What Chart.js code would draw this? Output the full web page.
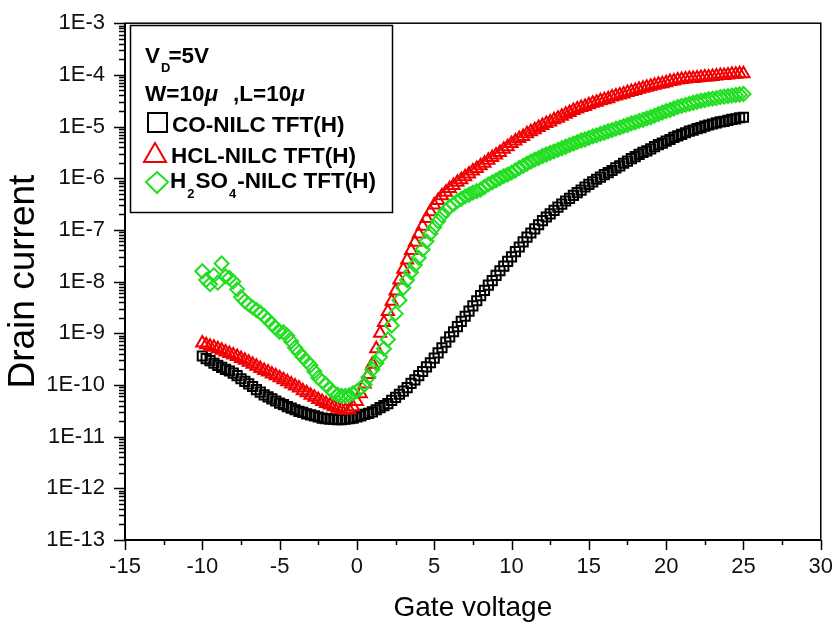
<!DOCTYPE html>
<html>
<head>
<meta charset="utf-8">
<script src="https://cdn.jsdelivr.net/npm/chart.js@4/dist/chart.umd.min.js"></script>
<style>
  html, body { margin: 0; padding: 0; background: #fff; }
  #wrap { width: 837px; height: 641px; }
</style>
</head>
<body>
<div id="wrap"><canvas id="c" width="837" height="641"></canvas></div>
<script>
// Gate sweep (V)
const gateVoltage = [
  -10, -9.75, -9.5, -9.25, -9, -8.75, -8.5, -8.25, -8, -7.75, -7.5, -7.25,
  -7, -6.75, -6.5, -6.25, -6, -5.75, -5.5, -5.25, -5, -4.75, -4.5, -4.25,
  -4, -3.75, -3.5, -3.25, -3, -2.75, -2.5, -2.25, -2, -1.75, -1.5, -1.25,
  -1, -0.75, -0.5, -0.25, 0, 0.25, 0.5, 0.75, 1, 1.25, 1.5, 1.75,
  2, 2.25, 2.5, 2.75, 3, 3.25, 3.5, 3.75, 4, 4.25, 4.5, 4.75,
  5, 5.25, 5.5, 5.75, 6, 6.25, 6.5, 6.75, 7, 7.25, 7.5, 7.75,
  8, 8.25, 8.5, 8.75, 9, 9.25, 9.5, 9.75, 10, 10.25, 10.5, 10.75,
  11, 11.25, 11.5, 11.75, 12, 12.25, 12.5, 12.75, 13, 13.25, 13.5, 13.75,
  14, 14.25, 14.5, 14.75, 15, 15.25, 15.5, 15.75, 16, 16.25, 16.5, 16.75,
  17, 17.25, 17.5, 17.75, 18, 18.25, 18.5, 18.75, 19, 19.25, 19.5, 19.75,
  20, 20.25, 20.5, 20.75, 21, 21.25, 21.5, 21.75, 22, 22.25, 22.5, 22.75,
  23, 23.25, 23.5, 23.75, 24, 24.25, 24.5, 24.75, 25
];

// log10 of drain current (A), CO-NILC TFT(H)
const coLogId = [
  -9.44, -9.49, -9.53, -9.58, -9.62, -9.66, -9.70, -9.73, -9.77, -9.82, -9.88, -9.93,
  -9.98, -10.03, -10.09, -10.14, -10.19, -10.23, -10.27, -10.31, -10.35, -10.38, -10.42, -10.45,
  -10.48, -10.51, -10.53, -10.56, -10.58, -10.60, -10.62, -10.64, -10.65, -10.66, -10.66, -10.67,
  -10.67, -10.66, -10.65, -10.64, -10.62, -10.60, -10.57, -10.55, -10.52, -10.48, -10.44, -10.40,
  -10.36, -10.30, -10.24, -10.18, -10.12, -10.05, -9.97, -9.90, -9.82, -9.74, -9.65, -9.57,
  -9.48, -9.38, -9.28, -9.17, -9.07, -8.97, -8.87, -8.77, -8.67, -8.57, -8.47, -8.37,
  -8.27, -8.17, -8.07, -7.98, -7.88, -7.79, -7.70, -7.61, -7.52, -7.42, -7.33, -7.23,
  -7.14, -7.06, -6.98, -6.90, -6.82, -6.75, -6.69, -6.62, -6.56, -6.50, -6.44, -6.39,
  -6.33, -6.28, -6.23, -6.17, -6.12, -6.07, -6.02, -5.98, -5.93, -5.89, -5.85, -5.80,
  -5.76, -5.71, -5.67, -5.62, -5.58, -5.54, -5.50, -5.47, -5.43, -5.39, -5.35, -5.32,
  -5.28, -5.25, -5.21, -5.18, -5.15, -5.12, -5.09, -5.07, -5.04, -5.02, -4.99, -4.97,
  -4.95, -4.93, -4.91, -4.90, -4.88, -4.86, -4.85, -4.83, -4.82
];

// log10 of drain current (A), HCL-NILC TFT(H)
const hclLogId = [
  -9.19, -9.22, -9.25, -9.27, -9.30, -9.33, -9.36, -9.39, -9.42, -9.45, -9.49, -9.52,
  -9.56, -9.60, -9.64, -9.68, -9.72, -9.75, -9.79, -9.82, -9.86, -9.90, -9.94, -9.98,
  -10.02, -10.06, -10.11, -10.15, -10.20, -10.24, -10.28, -10.32, -10.36, -10.39, -10.42, -10.45,
  -10.48, -10.49, -10.48, -10.42, -10.32, -10.17, -9.98, -9.80, -9.60, -9.30, -9.00, -8.79,
  -8.58, -8.38, -8.18, -7.97, -7.76, -7.58, -7.40, -7.24, -7.08, -6.93, -6.78, -6.65,
  -6.52, -6.43, -6.34, -6.27, -6.20, -6.14, -6.08, -6.03, -5.97, -5.92, -5.86, -5.81,
  -5.76, -5.71, -5.65, -5.60, -5.55, -5.50, -5.44, -5.39, -5.33, -5.28, -5.23, -5.19,
  -5.14, -5.10, -5.06, -5.02, -4.98, -4.94, -4.91, -4.87, -4.84, -4.80, -4.76, -4.73,
  -4.69, -4.66, -4.63, -4.61, -4.58, -4.55, -4.53, -4.50, -4.48, -4.46, -4.43, -4.41,
  -4.39, -4.37, -4.34, -4.32, -4.30, -4.28, -4.26, -4.24, -4.22, -4.20, -4.18, -4.17,
  -4.15, -4.13, -4.12, -4.10, -4.09, -4.08, -4.07, -4.07, -4.06, -4.05, -4.04, -4.04,
  -4.03, -4.02, -4.01, -4.01, -4.00, -3.99, -3.99, -3.98, -3.98
];

// log10 of drain current (A), H2SO4-NILC TFT(H)
const h2so4LogId = [
  -7.80, -7.97, -8.05, -7.88, -8.02, -7.65, -7.90, -7.93, -8.00, -8.15, -8.30, -8.38,
  -8.44, -8.50, -8.55, -8.60, -8.67, -8.74, -8.82, -8.90, -8.97, -8.98, -9.05, -9.16,
  -9.28, -9.37, -9.46, -9.54, -9.62, -9.74, -9.86, -9.93, -9.99, -10.08, -10.15, -10.19,
  -10.21, -10.21, -10.20, -10.16, -10.12, -10.06, -9.99, -9.85, -9.70, -9.58, -9.46, -9.30,
  -9.12, -8.85, -8.62, -8.36, -8.12, -7.97, -7.82, -7.68, -7.54, -7.38, -7.22, -7.07,
  -6.95, -6.83, -6.72, -6.63, -6.55, -6.50, -6.44, -6.40, -6.35, -6.32, -6.28, -6.25,
  -6.22, -6.17, -6.12, -6.08, -6.04, -6.00, -5.96, -5.93, -5.89, -5.85, -5.80, -5.76,
  -5.72, -5.68, -5.64, -5.61, -5.57, -5.54, -5.51, -5.48, -5.45, -5.42, -5.39, -5.36,
  -5.33, -5.30, -5.27, -5.25, -5.22, -5.19, -5.17, -5.14, -5.12, -5.09, -5.07, -5.04,
  -5.02, -4.99, -4.97, -4.94, -4.92, -4.89, -4.87, -4.84, -4.82, -4.79, -4.76, -4.73,
  -4.70, -4.68, -4.65, -4.62, -4.60, -4.58, -4.56, -4.54, -4.52, -4.50, -4.49, -4.47,
  -4.46, -4.45, -4.43, -4.42, -4.41, -4.40, -4.39, -4.38, -4.37
];

const seriesNames = ['CO-NILC TFT(H)', 'HCL-NILC TFT(H)', 'H\u2082SO\u2084-NILC TFT(H)'];
const yDecades = [1e-13, 1e-12, 1e-11, 1e-10, 1e-9, 1e-8, 1e-7, 1e-6, 1e-5, 1e-4, 1e-3];
const yTickLabels = ['1E-13', '1E-12', '1E-11', '1E-10', '1E-9', '1E-8', '1E-7', '1E-6', '1E-5', '1E-4', '1E-3'];
const xTickValues = [-15, -10, -5, 0, 5, 10, 15, 20, 25, 30];

const FONT = "'Liberation Sans', Arial, Helvetica, sans-serif";
const RED = 'rgb(240,0,0)';
const GREEN = 'rgb(34,222,34)';

function toPoints(logs) {
  return logs.map((e, i) => ({ x: gateVoltage[i], y: Math.pow(10, e) }));
}

// Outward major/minor tick marks and the closed plot frame
const axisFrame = {
  id: 'axisFrame',
  afterDatasetsDraw(chart) {
    const { ctx, chartArea: a, scales } = chart;
    const xs = scales.x, ys = scales.y;
    ctx.save();
    ctx.strokeStyle = '#000';
    ctx.lineWidth = 1.5;
    ctx.strokeRect(a.left, a.top, a.right - a.left, a.bottom - a.top);
    ctx.lineWidth = 2;
    ctx.beginPath();
    ctx.moveTo(a.left, a.top);
    ctx.lineTo(a.left, a.bottom);
    ctx.lineTo(a.right, a.bottom);
    ctx.stroke();

    ctx.lineWidth = 1.5;
    ctx.beginPath();
    for (let k = 0; k < xTickValues.length; k++) {
      const v = xTickValues[k];
      const px = Math.round(xs.getPixelForValue(v)) + 0.5;
      ctx.moveTo(px, a.bottom);
      ctx.lineTo(px, a.bottom + 10);
      if (k < xTickValues.length - 1) {
        const pm = Math.round(xs.getPixelForValue(v + 2.5)) + 0.5;
        ctx.moveTo(pm, a.bottom);
        ctx.lineTo(pm, a.bottom + 5);
      }
    }
    for (let k = 0; k < yDecades.length; k++) {
      const d = yDecades[k];
      const py = Math.round(ys.getPixelForValue(d)) + 0.5;
      ctx.moveTo(a.left - 11, py);
      ctx.lineTo(a.left, py);
      if (k < yDecades.length - 1) {
        for (let m = 2; m <= 9; m++) {
          const pm = Math.round(ys.getPixelForValue(d * m)) + 0.5;
          ctx.moveTo(a.left - 6, pm);
          ctx.lineTo(a.left, pm);
        }
      }
    }
    ctx.stroke();
    ctx.restore();
  }
};

// Boxed annotation with the bias conditions and the marker key
const legendBox = {
  id: 'legendBox',
  afterDraw(chart) {
    const ctx = chart.ctx;
    const big = 'bold 22.5px ' + FONT;
    const ital = 'italic bold 22.5px ' + FONT;
    const small = 'bold 13px ' + FONT;
    ctx.save();
    ctx.fillStyle = '#fff';
    ctx.fillRect(131, 26, 261, 186);
    ctx.strokeStyle = '#000';
    ctx.lineWidth = 1.5;
    ctx.strokeRect(130.5, 25.5, 262, 187);

    ctx.fillStyle = '#000';
    ctx.textBaseline = 'alphabetic';
    ctx.textAlign = 'left';

    // V_D = 5V
    let x = 145;
    ctx.font = big; ctx.fillText('V', x, 63); x += ctx.measureText('V').width + 1;
    ctx.font = small; ctx.fillText('D', x, 72); x += ctx.measureText('D').width - 2;
    ctx.font = big; ctx.fillText('=5V', x, 63);

    // W = 10 mu, L = 10 mu
    x = 145;
    ctx.font = big; ctx.fillText('W=10', x, 101); x += ctx.measureText('W=10').width;
    ctx.font = ital; ctx.fillText('\u03bc', x, 101);
    x = 233;
    ctx.font = big; ctx.fillText(',L=10', x, 101); x += ctx.measureText(',L=10').width;
    ctx.font = ital; ctx.fillText('\u03bc', x, 101);

    // marker keys
    ctx.lineWidth = 2;
    ctx.strokeStyle = '#000';
    ctx.strokeRect(148, 113, 19, 19);
    ctx.strokeStyle = RED;
    ctx.beginPath();
    ctx.moveTo(155, 143); ctx.lineTo(166, 162); ctx.lineTo(144, 162); ctx.closePath();
    ctx.stroke();
    ctx.strokeStyle = GREEN;
    ctx.beginPath();
    ctx.moveTo(157, 172); ctx.lineTo(168, 182); ctx.lineTo(157, 193); ctx.lineTo(146, 182); ctx.closePath();
    ctx.stroke();

    ctx.font = big;
    ctx.fillText(seriesNames[0], 172, 132);
    ctx.fillText(seriesNames[1], 171, 163);

    // H2SO4 with subscripts
    x = 170;
    ctx.font = big; ctx.fillText('H', x, 188); x += ctx.measureText('H').width + 1;
    ctx.font = small; ctx.fillText('2', x, 198); x += ctx.measureText('2').width + 1;
    ctx.font = big; ctx.fillText('SO', x, 188); x += ctx.measureText('SO').width + 1;
    ctx.font = small; ctx.fillText('4', x, 198); x += ctx.measureText('4').width + 1;
    ctx.font = big; ctx.fillText('-NILC TFT(H)', x, 188);
    ctx.restore();
  }
};

const common = {
  showLine: false,
  pointBackgroundColor: 'rgba(255,255,255,0)',
  pointBorderWidth: 2,
  pointHoverRadius: 6
};

new Chart(document.getElementById('c'), {
  type: 'scatter',
  data: {
    datasets: [
      Object.assign({}, common, {
        label: seriesNames[0], data: toPoints(coLogId), order: 3,
        pointStyle: 'rect', pointRadius: 6.5, borderColor: '#000', pointBorderColor: '#000'
      }),
      Object.assign({}, common, {
        label: seriesNames[1], data: toPoints(hclLogId), order: 2,
        pointStyle: 'triangle', pointRadius: 7, borderColor: RED, pointBorderColor: RED
      }),
      Object.assign({}, common, {
        label: seriesNames[2], data: toPoints(h2so4LogId), order: 1,
        pointStyle: 'rectRot', pointRadius: 7, borderColor: GREEN, pointBorderColor: GREEN
      })
    ]
  },
  options: {
    responsive: false,
    animation: false,
    events: [],
    layout: { padding: { top: 20, right: 14, bottom: 0, left: 0 } },
    plugins: {
      legend: { display: false },
      tooltip: { enabled: false }
    },
    scales: {
      x: {
        type: 'linear',
        min: -15,
        max: 30,
        afterBuildTicks(scale) { scale.ticks = xTickValues.map(v => ({ value: v })); },
        ticks: {
          color: '#111',
          font: { family: FONT, size: 22 },
          padding: 4,
          maxRotation: 0,
          autoSkip: false
        },
        grid: { color: 'rgba(0,0,0,0)', drawOnChartArea: false, tickLength: 10 },
        border: { display: false },
        title: {
          display: true,
          text: 'Gate voltage',
          color: '#000',
          font: { family: FONT, size: 28, lineHeight: 1.2 },
          padding: { top: 0, bottom: 16 }
        },
        afterFit(scale) { scale.height = 101; }
      },
      y: {
        type: 'logarithmic',
        min: 1e-13,
        max: 1e-3,
        afterBuildTicks(scale) { scale.ticks = yDecades.map(v => ({ value: v })); },
        ticks: {
          color: '#111',
          font: { family: FONT, size: 22 },
          padding: 10,
          autoSkip: false,
          callback: (v, i) => yTickLabels[i]
        },
        grid: { color: 'rgba(0,0,0,0)', drawOnChartArea: false, tickLength: 10 },
        border: { display: false },
        title: {
          display: true,
          text: 'Drain current',
          color: '#000',
          font: { family: FONT, size: 37, lineHeight: 1.2 },
          padding: { top: 2, bottom: 0 }
        },
        afterFit(scale) { scale.width = 125; }
      }
    }
  },
  plugins: [axisFrame, legendBox]
});
</script>
</body>
</html>
